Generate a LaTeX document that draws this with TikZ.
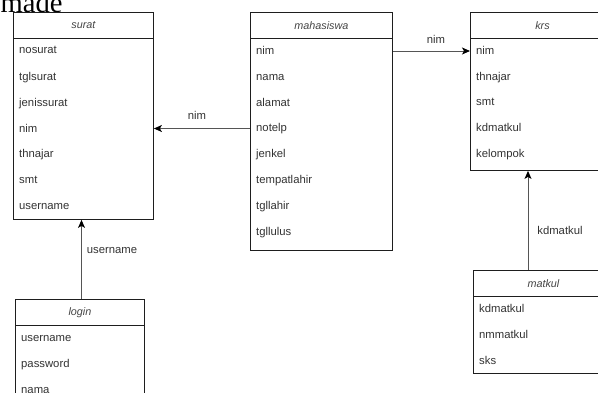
\documentclass[tikz,border=0pt]{standalone}
\usepackage{fontspec}
\setmainfont{Liberation Sans}
\newfontfamily\serifx{Liberation Serif}
\usetikzlibrary{arrows.meta}
\definecolor{txt}{HTML}{333333}
\definecolor{hdtxt}{HTML}{444444}
\definecolor{lin}{HTML}{1E1E1E}
\definecolor{conn}{HTML}{555555}
\tikzset{
  tbox/.style={draw=lin, line width=0.9pt, fill=white, anchor=north west, inner sep=0pt},
  thead/.style={draw=lin, line width=0.9pt, anchor=north west, inner sep=0pt, minimum height=26pt,
     font=\fontsize{10.8}{12}\selectfont\itshape, text=hdtxt},
  trow/.style={anchor=west, inner xsep=6pt, inner ysep=0pt, text height=8.5pt, text depth=2.5pt,
     font=\fontsize{11.3}{13}\selectfont, text=txt},
  lbl/.style={inner sep=0pt, text height=8.5pt, text depth=2.5pt, font=\fontsize{11.3}{13}\selectfont, text=txt},
  rel/.style={draw=conn, line width=1pt, -{Stealth[length=8pt,width=7pt,inset=2pt]}, arrows={[fill=black,color=black]}},
}
\begin{document}
\begin{tikzpicture}[x=1pt,y=-1pt]
\useasboundingbox (0,0) rectangle (598,392);
\fill[white] (0,0) rectangle (598,392);
\begin{scope}
\clip (0,0) rectangle (598,392);
\node[anchor=base west, inner sep=0pt, font=\serifx\fontsize{28.6}{30}\selectfont] (made) at (0.5,12.6) {made};

% surat
\node[tbox, minimum width=140pt, minimum height=207pt] (surat) at (13,12) {};
\node[thead, minimum width=140pt] (surat-h) at (13,12) {surat};
\node[trow] (surat-1) at (13,50.5) {nosurat};
\node[trow] (surat-2) at (13,77.5) {tglsurat};
\node[trow] (surat-3) at (13,103) {jenissurat};
\node[trow] (surat-4) at (13,129) {nim};
\node[trow] (surat-5) at (13,154.5) {thnajar};
\node[trow] (surat-6) at (13,180.5) {smt};
\node[trow] (surat-7) at (13,206.5) {username};

% mahasiswa
\node[tbox, minimum width=142pt, minimum height=238pt] (mhs) at (250,12) {};
\node[thead, minimum width=142pt] (mhs-h) at (250,12) {mahasiswa};
\node[trow] (mhs-1) at (250,51) {nim};
\node[trow] (mhs-2) at (250,77) {nama};
\node[trow] (mhs-3) at (250,103) {alamat};
\node[trow] (mhs-4) at (250,128.5) {notelp};
\node[trow] (mhs-5) at (250,154) {jenkel};
\node[trow] (mhs-6) at (250,180) {tempatlahir};
\node[trow] (mhs-7) at (250,206) {tgllahir};
\node[trow] (mhs-8) at (250,232) {tgllulus};

% krs
\node[tbox, minimum width=144pt, minimum height=158pt] (krs) at (470,12) {};
\node[thead, minimum width=144pt] (krs-h) at (470,12) {krs};
\node[trow] (krs-1) at (470,51) {nim};
\node[trow] (krs-2) at (470,77) {thnajar};
\node[trow] (krs-3) at (470,102.5) {smt};
\node[trow] (krs-4) at (470,128) {kdmatkul};
\node[trow] (krs-5) at (470,154) {kelompok};

% matkul
\node[tbox, minimum width=140pt, minimum height=103pt] (matkul) at (473,270) {};
\node[thead, minimum width=140pt] (matkul-h) at (473,270) {matkul};
\node[trow] (matkul-1) at (473,309) {kdmatkul};
\node[trow] (matkul-2) at (473,335) {nmmatkul};
\node[trow] (matkul-3) at (473,361) {sks};

% login
\node[tbox, minimum width=129pt, minimum height=110pt] (login) at (15,299) {};
\node[thead, minimum width=129pt] (login-h) at (15,299) {login};
\node[trow] (login-1) at (15,338.5) {username};
\node[trow] (login-2) at (15,364) {password};
\node[trow] (login-3) at (15,390) {nama};

% connectors
\coordinate (uc) at (81.5,299);
\coordinate (kc) at (528,270);
\draw[rel] (mhs-4.west) -- (surat.east |- mhs-4.west);
\draw[rel] (mhs.east |- mhs-1.west) -- (krs-1.west);
\draw[rel] (uc) -- (uc |- surat.south);
\draw[rel] (kc) -- (kc |- krs.south);

% labels
\node[lbl] (l-nim1) at (197,116) {nim};
\node[lbl] (l-nim2) at (436,40.5) {nim};
\node[lbl] (l-user) at (112,250.5) {username};
\node[lbl] (l-kd) at (560,231) {kdmatkul};
\end{scope}
\end{tikzpicture}
\end{document}
